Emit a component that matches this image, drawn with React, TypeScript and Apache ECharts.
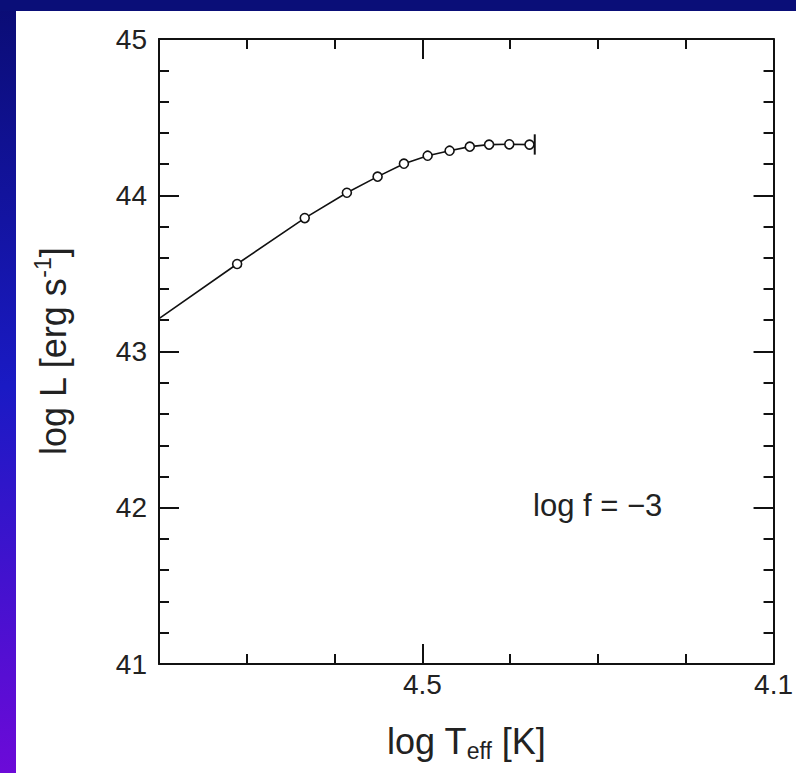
import React, { useEffect, useRef } from "react";
import * as echarts from "echarts";

// ---- data ----
const lineStart: [number, number] = [4.8, 43.21];
const teff = [4.711, 4.634, 4.586, 4.551, 4.521, 4.494, 4.469, 4.446, 4.424, 4.401, 4.378];
const logL = [43.56, 43.854, 44.016, 44.119, 44.202, 44.253, 44.285, 44.311, 44.324, 44.326, 44.324];
const lineEnd: [number, number] = [4.372, 44.323];
const endBarX = 4.372;
const endBarY = [44.26, 44.39];
const xLabelValues = [4.5, 4.1];
const xMajorTicks = [4.5];
const annotation = "log f = \u22123";

const FONT = "'Liberation Sans', Arial, Helvetica, sans-serif";
const TXT = "#222";

export default function App() {
  const ref = useRef<HTMLDivElement>(null);
  useEffect(() => {
    document.body.style.margin = "0";
    const chart = echarts.init(ref.current!, undefined, { renderer: "svg" });

    const mainData: any[] = [
      { value: lineStart, symbol: "none" },
      ...teff.map((t, i) => [t, logL[i]]),
      { value: lineEnd, symbol: "none" },
    ];

    const xBase = {
      type: "value",
      min: 4.1,
      max: 4.8,
      interval: 0.1,
      inverse: true,
      splitLine: { show: false },
      axisLine: { show: true, lineStyle: { color: "#111", width: 2 } },
      axisTick: { show: true, inside: true, length: 10, lineStyle: { color: "#111", width: 2 } },
      axisLabel: { show: false },
    };
    const xMajor = {
      type: "value",
      min: 4.1,
      max: 4.8,
      interval: 0.1,
      inverse: true,
      splitLine: { show: false },
      axisLine: { show: false },
      axisTick: { show: true, inside: true, length: 20, customValues: xMajorTicks, lineStyle: { color: "#111", width: 2 } },
      axisLabel: { show: false },
    };
    const yBase = {
      type: "value",
      min: 41,
      max: 45,
      interval: 1,
      splitLine: { show: false },
      axisLine: { show: true, lineStyle: { color: "#111", width: 2 } },
      axisTick: { show: true, inside: true, length: 20, lineStyle: { color: "#111", width: 2 } },
      minorTick: { show: true, splitNumber: 5, length: 10, lineStyle: { color: "#111", width: 2 } },
      minorSplitLine: { show: false },
    };

    chart.setOption({
      animation: false,
      backgroundColor: "#ffffff",
      grid: { left: 159, top: 39, width: 617, height: 625, containLabel: false },
      xAxis: [
        {
          ...xBase,
          position: "bottom",
          axisLabel: {
            show: true,
            customValues: xLabelValues,
            formatter: (v: number) => v.toFixed(1),
            fontSize: 28,
            fontFamily: FONT,
            color: TXT,
            margin: 6,
          },
          name: "{a|log T}{sub|eff}{a| [K]}",
          nameLocation: "middle",
          nameGap: 56,
          nameTextStyle: {
            rich: {
              a: { fontSize: 36, fontFamily: FONT, color: TXT, lineHeight: 42 },
              sub: { fontSize: 23, fontFamily: FONT, color: TXT, verticalAlign: "bottom", lineHeight: 42, padding: [10, 0, 0, 0] },
            },
          },
        },
        { ...xMajor, position: "bottom" },
        { ...xBase, position: "top" },
        { ...xMajor, position: "top" },
      ],
      yAxis: [
        {
          ...yBase,
          position: "left",
          axisLabel: { show: true, fontSize: 28, fontFamily: FONT, color: TXT, margin: 12 },
          name: "{a|log L [erg s}{sup|-1}{a|]}",
          nameLocation: "middle",
          nameGap: 84,
          nameRotate: 90,
          nameTextStyle: {
            rich: {
              a: { fontSize: 36, fontFamily: FONT, color: TXT, lineHeight: 44 },
              sup: { fontSize: 23, fontFamily: FONT, color: TXT, verticalAlign: "top", lineHeight: 44, padding: [0, 0, 12, 0] },
            },
          },
        },
        { ...yBase, position: "right", axisLabel: { show: false } },
      ],
      graphic: [
        {
          type: "rect",
          shape: { x: 0, y: 0, width: 16, height: 773 },
          style: {
            fill: new echarts.graphic.LinearGradient(0, 0, 0, 1, [
              { offset: 0, color: "#0a0c74" },
              { offset: 0.5, color: "#1a1ac4" },
              { offset: 1, color: "#6c0ad8" },
            ]),
          },
          silent: true,
        },
        {
          type: "rect",
          shape: { x: 0, y: 0, width: 796, height: 11 },
          style: { fill: "#0a0e78" },
          silent: true,
        },
        {
          type: "text",
          left: 533,
          top: 490,
          style: { text: annotation, fontSize: 31, fontFamily: FONT, fill: TXT },
          silent: true,
        },
      ],
      series: [
        {
          type: "line",
          xAxisIndex: 0,
          yAxisIndex: 0,
          data: mainData,
          symbol: "circle",
          symbolSize: 9,
          showAllSymbol: true,
          lineStyle: { color: "#111", width: 1.6 },
          itemStyle: { color: "#fff", borderColor: "#111", borderWidth: 1.6 },
          z: 3,
        },
        {
          type: "line",
          xAxisIndex: 0,
          yAxisIndex: 0,
          data: [
            [endBarX, endBarY[0]],
            [endBarX, endBarY[1]],
          ],
          symbol: "none",
          lineStyle: { color: "#111", width: 2 },
          z: 4,
        },
      ],
    });
    return () => chart.dispose();
  }, []);
  return <div ref={ref} style={{ position: "fixed", left: 0, top: 0, width: 796, height: 773 }} />;
}
